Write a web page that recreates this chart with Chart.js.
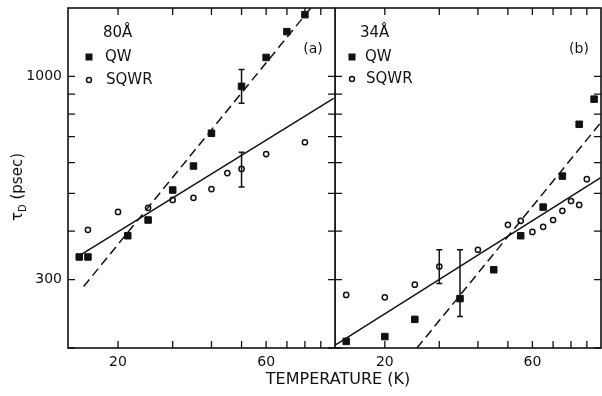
<!DOCTYPE html>
<html>
<head>
<meta charset="utf-8">
<script src="https://cdn.jsdelivr.net/npm/chart.js@4.4.1/dist/chart.umd.min.js"></script>
<style>
    html, body { margin: 0; padding: 0; background: #fff; }
    #wrap { position: relative; width: 602px; height: 396px; overflow: hidden; font-family: 'DejaVu Sans', sans-serif; color: #111; }
    #wrap canvas { position: absolute; top: 0; }
    #chartA { left: 0; }
    #chartB { left: 335px; }
    #xTitle { position: absolute; left: 238px; width: 200px; top: 369px; text-align: center; font-size: 16px; line-height: 19px; white-space: nowrap; }
</style>
</head>
<body>
<div id="wrap">
    <canvas id="chartA" width="336" height="396"></canvas>
    <canvas id="chartB" width="267" height="396"></canvas>
    <div id="xTitle">TEMPERATURE (K)</div>
</div>
<script>
// axis ticks (log-log plot)
const tempTicks = [20, 30, 40, 50, 60, 70, 80, 90];
const tempLabels = [20, 60];
const tauTicks = [200, 300, 400, 500, 600, 700, 800, 900, 1000];
const tauLabels = [300, 1000];

// (a) 80 A well
const qwTempA = [15, 16, 21.5, 25, 30, 35, 40, 50, 60, 70, 80];
const qwTauA = [343, 343, 389, 427, 510, 588, 714, 943, 1119, 1304, 1442];
const sqwrTempA = [16, 20, 25, 30, 35, 40, 45, 50, 60, 80];
const sqwrTauA = [403, 448, 459, 481, 487, 513, 564, 578, 631, 677];
const errTempA = [50, 50];
const errLowA = [853, 519];
const errHighA = [1042, 638];
const solidTempA = [15.2, 99];
const solidTauA = [348, 878];
const dashTempA = [15.5, 83.6];
const dashTauA = [288, 1500];

// (b) 34 A well
const qwTempB = [15, 20, 25, 35, 45, 55, 65, 75, 85, 95];
const qwTauB = [208, 214, 237, 268, 318, 389, 461, 554, 753, 874];
const sqwrTempB = [15, 20, 25, 30, 40, 50, 55, 60, 65, 70, 75, 80, 85, 90];
const sqwrTauB = [274, 270, 291, 324, 358, 415, 425, 398, 410, 427, 451, 478, 467, 544];
const errTempB = [35, 30];
const errLowB = [241, 293];
const errHighB = [358, 358];
const solidTempB = [13.9, 99.5];
const solidTauB = [204, 548];
const dashTempB = [25.4, 99.5];
const dashTauB = [200, 758];

(function() {
    const INK = '#111';
    const FONT = "'DejaVu Sans', sans-serif";
    const TICK_LEN = 7;

    function toPoints(xs, ys) {
        return xs.map(function(x, i) { return { x: x, y: ys[i] }; });
    }

    const framePlugin = {
        id: 'frame',
        afterDatasetsDraw(chart) {
            const ctx = chart.ctx;
            const a = chart.chartArea;
            const xs = chart.scales.x;
            const ys = chart.scales.y;
            ctx.save();
            ctx.strokeStyle = INK;
            ctx.lineWidth = 1.6;
            ctx.strokeRect(a.left, a.top, a.right - a.left, a.bottom - a.top);
            ctx.lineWidth = 1.3;
            ctx.beginPath();
            tempTicks.forEach(function(v) {
                const px = xs.getPixelForValue(v);
                ctx.moveTo(px, a.top); ctx.lineTo(px, a.top + TICK_LEN);
                ctx.moveTo(px, a.bottom); ctx.lineTo(px, a.bottom - TICK_LEN);
            });
            tauTicks.forEach(function(v) {
                const py = ys.getPixelForValue(v);
                ctx.moveTo(a.left, py); ctx.lineTo(a.left + TICK_LEN, py);
                ctx.moveTo(a.right, py); ctx.lineTo(a.right - TICK_LEN, py);
            });
            ctx.stroke();

            // error bars
            const err = chart.options.plugins.frame;
            ctx.lineWidth = 1.5;
            ctx.beginPath();
            err.temps.forEach(function(t, i) {
                const px = xs.getPixelForValue(t);
                const lo = ys.getPixelForValue(err.low[i]);
                const hi = ys.getPixelForValue(err.high[i]);
                ctx.moveTo(px, lo); ctx.lineTo(px, hi);
                ctx.moveTo(px - 3, lo); ctx.lineTo(px + 3, lo);
                ctx.moveTo(px - 3, hi); ctx.lineTo(px + 3, hi);
            });
            ctx.stroke();

            // well width, legend and panel tag
            const lg = err.legend;
            ctx.fillStyle = INK;
            ctx.textBaseline = 'middle';
            ctx.textAlign = 'left';
            ctx.font = '15px ' + FONT;
            ctx.fillText(lg.well, a.left + lg.wellX, a.top + 25);
            ctx.fillText('QW', a.left + lg.textX, a.top + 49);
            ctx.fillText('SQWR', a.left + lg.textX + 1, a.top + lg.sqwrY);
            ctx.fillRect(a.left + lg.markX - 3.5, a.top + 49 - 3.5, 7, 7);
            ctx.beginPath();
            ctx.fillStyle = '#fff';
            ctx.arc(a.left + lg.markX, a.top + lg.sqwrY, 2.5, 0, Math.PI * 2);
            ctx.fill();
            ctx.stroke();
            ctx.fillStyle = INK;
            ctx.textAlign = 'center';
            ctx.font = '14px ' + FONT;
            ctx.fillText(lg.tag, a.right - 22, a.top + 41);

            if (lg.yTitle) {
                ctx.translate(18, 187);
                ctx.rotate(-Math.PI / 2);
                ctx.font = '15px ' + FONT;
                const w1 = ctx.measureText('\u03c4').width;
                ctx.font = '10px ' + FONT;
                const w2 = ctx.measureText('D').width;
                ctx.font = '15px ' + FONT;
                const w3 = ctx.measureText(' (psec)').width;
                let cx = -(w1 + w2 + w3) / 2;
                ctx.textAlign = 'left';
                ctx.fillText('\u03c4', cx, 0);
                cx += w1;
                ctx.font = '10px ' + FONT;
                ctx.fillText('D', cx, 5);
                cx += w2;
                ctx.font = '15px ' + FONT;
                ctx.fillText(' (psec)', cx, 0);
            }
            ctx.restore();
        }
    };

    function buildPanel(canvasId, cfg) {
        return new Chart(document.getElementById(canvasId), {
            type: 'scatter',
            data: {
                datasets: [
                    { data: toPoints(cfg.solidT, cfg.solidTau), showLine: true, borderColor: INK, borderWidth: 1.5, pointRadius: 0 },
                    { data: toPoints(cfg.dashT, cfg.dashTau), showLine: true, borderColor: INK, borderWidth: 1.5, borderDash: [9, 5], pointRadius: 0 },
                    { data: toPoints(cfg.qwT, cfg.qwTau), pointStyle: 'rect', pointRadius: 4.6, pointBackgroundColor: INK, pointBorderColor: INK, pointBorderWidth: 1 },
                    { data: toPoints(cfg.sqwrT, cfg.sqwrTau), pointStyle: 'circle', pointRadius: 2.6, pointBackgroundColor: '#fff', pointBorderColor: INK, pointBorderWidth: 1.5 }
                ]
            },
            options: {
                responsive: false,
                animation: false,
                events: [],
                layout: { autoPadding: false, padding: { top: 8, right: 1, left: 0, bottom: 0 } },
                plugins: {
                    legend: { display: false },
                    tooltip: { enabled: false },
                    frame: { temps: cfg.errT, low: cfg.errLow, high: cfg.errHigh, legend: cfg.legend }
                },
                scales: {
                    x: {
                        type: 'logarithmic',
                        min: 13.8,
                        max: 100,
                        grid: { display: false, drawTicks: false },
                        border: { display: false },
                        afterBuildTicks: function(scale) {
                            scale.ticks = tempTicks.map(function(v) { return { value: v }; });
                        },
                        afterFit: function(scale) {
                            scale.height = 48;
                            scale.paddingLeft = 0;
                            scale.paddingRight = 0;
                        },
                        ticks: {
                            autoSkip: false,
                            maxRotation: 0,
                            padding: 0,
                            color: INK,
                            font: { family: FONT, size: 14, lineHeight: 2.1 },
                            callback: function(v) { return tempLabels.indexOf(v) >= 0 ? String(v) : ''; }
                        }
                    },
                    y: {
                        type: 'logarithmic',
                        min: 200,
                        max: 1500,
                        display: cfg.showY,
                        grid: { display: false, drawTicks: false },
                        border: { display: false },
                        afterBuildTicks: function(scale) {
                            scale.ticks = tauTicks.map(function(v) { return { value: v }; });
                        },
                        afterFit: function(scale) {
                            scale.width = cfg.showY ? 68 : 0;
                            scale.paddingTop = 0;
                            scale.paddingBottom = 0;
                        },
                        ticks: {
                            autoSkip: false,
                            padding: 6,
                            color: INK,
                            font: { family: FONT, size: 14 },
                            callback: function(v) { return tauLabels.indexOf(v) >= 0 ? String(v) : ''; }
                        }
                    }
                }
            },
            plugins: [framePlugin]
        });
    }

    buildPanel('chartA', {
        showY: true,
        qwT: qwTempA, qwTau: qwTauA, sqwrT: sqwrTempA, sqwrTau: sqwrTauA,
        solidT: solidTempA, solidTau: solidTauA, dashT: dashTempA, dashTau: dashTauA,
        errT: errTempA, errLow: errLowA, errHigh: errHighA,
        legend: { well: '80\u00c5', wellX: 35, markX: 21, textX: 37, sqwrY: 72, tag: '(a)', yTitle: true }
    });

    buildPanel('chartB', {
        showY: false,
        qwT: qwTempB, qwTau: qwTauB, sqwrT: sqwrTempB, sqwrTau: sqwrTauB,
        solidT: solidTempB, solidTau: solidTauB, dashT: dashTempB, dashTau: dashTauB,
        errT: errTempB, errLow: errLowB, errHigh: errHighB,
        legend: { well: '34\u00c5', wellX: 25, markX: 17, textX: 30, sqwrY: 71, tag: '(b)', yTitle: false }
    });
})();
</script>
</body>
</html>
